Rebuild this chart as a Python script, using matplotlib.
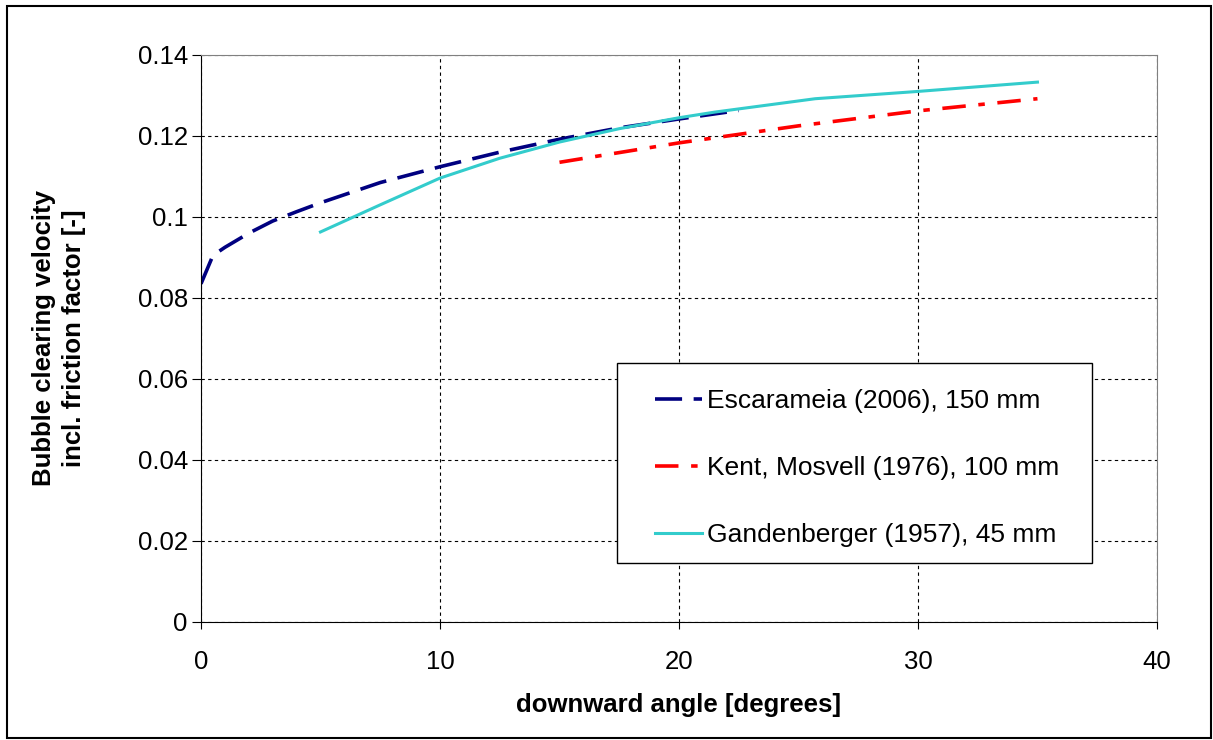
import matplotlib
matplotlib.use("Agg")
import matplotlib.pyplot as plt
from matplotlib.patches import Rectangle

# ────────────────────────────────
# Data
# ────────────────────────────────
esc_angle = [0, 0.5, 1, 2, 3, 4, 5, 7.5, 10, 12.5, 15, 17.5, 20, 22.5]
esc_value = [0.0835, 0.0905, 0.0925, 0.0960, 0.0990, 0.1013, 0.1035, 0.1085, 0.1124, 0.1160, 0.1192, 0.1220, 0.1242, 0.1263]

kent_angle = [15, 20, 25, 30, 35]
kent_value = [0.1135, 0.1183, 0.1225, 0.1262, 0.1292]

gand_angle = [5, 7.5, 10, 12.5, 15, 17.5, 20, 21.5, 25.7, 30, 35]
gand_value = [0.0963, 0.1030, 0.1096, 0.1145, 0.1185, 0.1218, 0.1245, 0.1259, 0.1292, 0.1310, 0.1333]

labels = ["Escarameia (2006), 150 mm", "Kent, Mosvell (1976), 100 mm", "Gandenberger (1957), 45 mm"]

plt.rcParams["font.family"] = ["Liberation Sans", "DejaVu Sans"]

fig = plt.figure(figsize=(12.13, 7.40), dpi=100)
ax = fig.add_axes([0.1657, 0.1595, 0.7881, 0.7662])

# outer chart frame
fig.patches.append(Rectangle((0.006, 0.003), 0.992, 0.989, transform=fig.transFigure,
                             fill=False, edgecolor="black", linewidth=1.5))

ax.plot(esc_angle, esc_value, color="#000080", linewidth=2.6,
        dashes=(7.5, 3.2), label=labels[0])
ax.plot(kent_angle, kent_value, color="#ff0000", linewidth=2.6,
        dashes=(6.5, 3.5, 1.8, 3.5), label=labels[1])
ax.plot(gand_angle, gand_value, color="#33cccc", linewidth=2.2,
        label=labels[2])

ax.set_xlim(0, 40)
ax.set_ylim(0, 0.14)
ax.set_xticks([0, 10, 20, 30, 40])
ax.set_yticks([0, 0.02, 0.04, 0.06, 0.08, 0.1, 0.12, 0.14])
ax.set_yticklabels(["0", "0.02", "0.04", "0.06", "0.08", "0.1", "0.12", "0.14"])
ax.tick_params(direction="out", labelsize=18.5)
ax.tick_params(axis="x", length=5, pad=15)
ax.tick_params(axis="y", length=6.5, pad=3)

ax.grid(True, color="black", linestyle=(0, (3, 3)), linewidth=0.8)
ax.set_axisbelow(True)
for side in ["top", "right"]:
    ax.spines[side].set_color("#808080")
for side in ["left", "bottom"]:
    ax.spines[side].set_color("black")

ax.set_xlabel("downward angle [degrees]", fontsize=18.5, fontweight="bold", labelpad=14)
ax.set_ylabel("Bubble clearing velocity\nincl. friction factor [-]", fontsize=18.5,
              fontweight="bold", labelpad=37, linespacing=1.35)

# legend box drawn separately: Excel pads the sides more than top/bottom
ax.add_patch(Rectangle((0.435, 0.104), 0.497, 0.353, transform=ax.transAxes,
                       facecolor="white", edgecolor="black", linewidth=1.0, zorder=4.5))
leg = ax.legend(loc="upper left", bbox_to_anchor=(0.475, 0.411), fontsize=19,
                frameon=False, labelspacing=1.63, handlelength=1.78,
                borderpad=0, handletextpad=0.2, borderaxespad=0)

fig.savefig("out.png", dpi=100)
